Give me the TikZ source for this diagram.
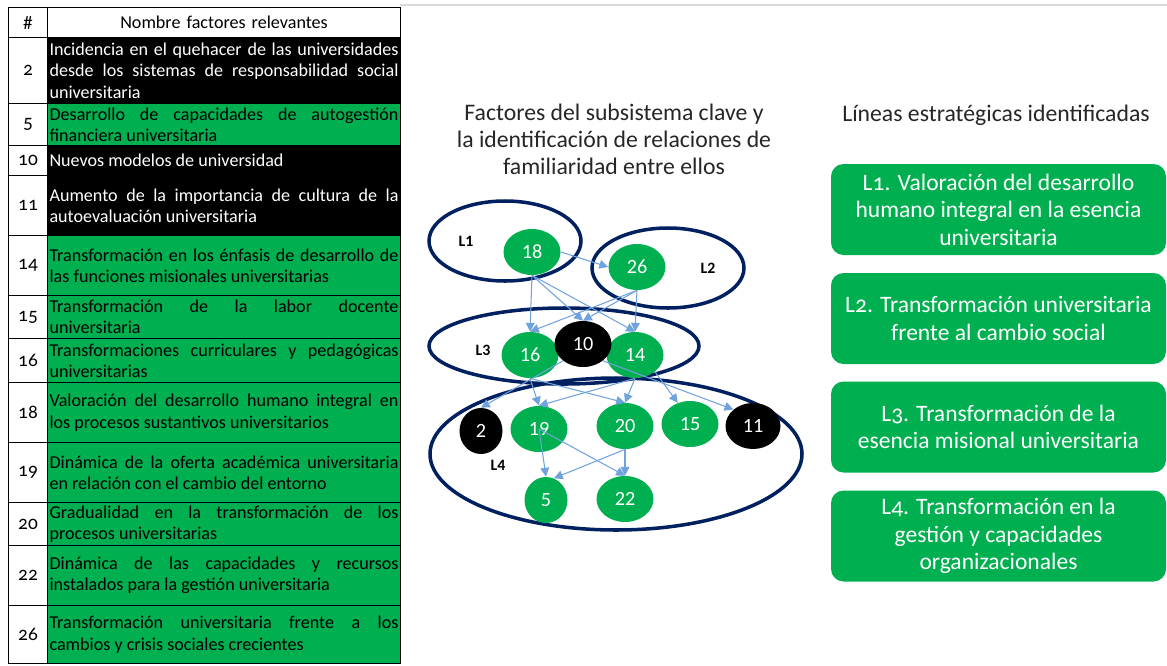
\documentclass[tikz,border=0pt]{standalone}
\usepackage{fontspec}
\setmainfont{Carlito}[Numbers=OldStyle]
\newfontfamily\liningfont{Carlito}
\usetikzlibrary{shapes.geometric, arrows.meta}
\definecolor{ogreen}{HTML}{00B050}
\definecolor{navy}{HTML}{002060}
\definecolor{edgeblue}{RGB}{112,163,222}

\tikzset{
  numcell/.style={draw=black, line width=0.6pt, anchor=north west, minimum width=0.78cm, inner sep=0pt, font=\fontsize{11}{12}\selectfont},
  cell/.style={draw=black, line width=0.6pt, anchor=north west, minimum width=7.06cm, text width=6.98cm, inner xsep=0.04cm, inner ysep=0pt, align=justify, font=\fontsize{10.3}{12.2}\selectfont, execute at begin node={\hyphenpenalty=10000\relax\tolerance=9999\relax}},
  headcell/.style={cell, align=center},
  greencell/.style={cell, fill=ogreen, text=black},
  blackcell/.style={cell, fill=black, text=white},
  factor/.style={ellipse, fill=ogreen, text=white, minimum width=1.14cm, minimum height=0.92cm, inner sep=0pt, font=\liningfont\fontsize{11.5}{12}\selectfont},
  factorb/.style={factor, fill=black},
  group/.style={ellipse, draw=navy, line width=2pt, inner sep=0pt},
  grouplabel/.style={font=\liningfont\bfseries\fontsize{9}{10}\selectfont},
  link/.style={draw=edgeblue, line width=0.6pt, -{Triangle[length=5pt,width=5pt]}},
  linebox/.style={rounded corners=0.25cm, fill=ogreen, text=white, minimum width=6.7cm, minimum height=1.82cm, align=center, font=\fontsize{13.4}{15.6}\selectfont},
  heading/.style={align=center, text=black!85, font=\fontsize{13.5}{15.3}\selectfont}
}

\begin{document}
\begin{tikzpicture}
\useasboundingbox (0,0) rectangle (23.34,-13.30);
\draw[black!15, line width=1.2pt] (8.00,-0.10) -- (23.34,-0.10);

\node[numcell, minimum height=0.60cm] (numh) at (0.16,-0.14) {\#};
\node[headcell, minimum height=0.60cm] (txth) at (0.94,-0.14) {Nombre factores relevantes};
\node[numcell, minimum height=1.32cm] (num2) at (0.16,-0.74) {2};
\node[blackcell, minimum height=1.32cm] (txt2) at (0.94,-0.74) {Incidencia en el quehacer de las universidades\linebreak desde los sistemas de responsabilidad social\linebreak universitaria};
\node[numcell, minimum height=0.84cm] (num5) at (0.16,-2.06) {5};
\node[greencell, minimum height=0.84cm] (txt5) at (0.94,-2.06) {Desarrollo de capacidades de autogestión\linebreak financiera universitaria};
\node[numcell, minimum height=0.60cm] (num10) at (0.16,-2.90) {10};
\node[blackcell, minimum height=0.60cm] (txt10) at (0.94,-2.90) {Nuevos modelos de universidad};
\node[numcell, minimum height=1.20cm] (num11) at (0.16,-3.50) {11};
\node[blackcell, minimum height=1.20cm] (txt11) at (0.94,-3.50) {Aumento de la importancia de cultura de la\linebreak autoevaluación universitaria};
\node[numcell, minimum height=1.20cm] (num14) at (0.16,-4.70) {14};
\node[greencell, minimum height=1.20cm] (txt14) at (0.94,-4.70) {Transformación en los énfasis de desarrollo de\linebreak las funciones misionales universitarias};
\node[numcell, minimum height=0.86cm] (num15) at (0.16,-5.90) {15};
\node[greencell, minimum height=0.86cm] (txt15) at (0.94,-5.90) {Transformación de la labor docente\linebreak universitaria};
\node[numcell, minimum height=0.88cm] (num16) at (0.16,-6.76) {16};
\node[greencell, minimum height=0.88cm] (txt16) at (0.94,-6.76) {Transformaciones curriculares y pedagógicas\linebreak universitarias};
\node[numcell, minimum height=1.20cm] (num18) at (0.16,-7.64) {18};
\node[greencell, minimum height=1.20cm] (txt18) at (0.94,-7.64) {Valoración del desarrollo humano integral en\linebreak los procesos sustantivos universitarios};
\node[numcell, minimum height=1.20cm] (num19) at (0.16,-8.84) {19};
\node[greencell, minimum height=1.20cm] (txt19) at (0.94,-8.84) {Dinámica de la oferta académica universitaria\linebreak en relación con el cambio del entorno};
\node[numcell, minimum height=0.86cm] (num20) at (0.16,-10.04) {20};
\node[greencell, minimum height=0.86cm] (txt20) at (0.94,-10.04) {Gradualidad en la transformación de los\linebreak procesos universitarias};
\node[numcell, minimum height=1.20cm] (num22) at (0.16,-10.90) {22};
\node[greencell, minimum height=1.20cm] (txt22) at (0.94,-10.90) {Dinámica de las capacidades y recursos\linebreak instalados para la gestión universitaria};
\node[numcell, minimum height=1.16cm] (num26) at (0.16,-12.10) {26};
\node[greencell, minimum height=1.16cm] (txt26) at (0.94,-12.10) {Transformación universitaria frente a los\linebreak cambios y crisis sociales crecientes};

\node[heading] (graphtitle) at (12.28,-2.78) {Factores del subsistema clave y\\ la identificación de relaciones de\\ familiaridad entre ellos};
\node[heading] (linestitle) at (19.92,-2.30) {Líneas estratégicas identificadas};

\node[group, minimum width=3.04cm, minimum height=1.60cm] (g1) at (10.10,-4.82) {};
\node[group, minimum width=3.04cm, minimum height=1.60cm] (g2) at (13.36,-5.36) {};
\node[group, minimum width=5.40cm, minimum height=1.52cm] (g3) at (11.28,-6.92) {};
\node[group, minimum width=7.44cm, minimum height=3.04cm] (g4) at (12.32,-9.08) {};
\node[grouplabel] (lab1) at (9.32,-4.82) {L1};
\node[grouplabel] (lab2) at (14.16,-5.36) {L2};
\node[grouplabel] (lab3) at (9.66,-7.00) {L3};
\node[grouplabel] (lab4) at (9.96,-9.30) {L4};

\node[factor] (f18) at (10.64,-5.04) {18};
\node[factor] (f26) at (12.74,-5.34) {26};
\node[factor] (f16) at (10.60,-7.10) {16};
\node[factor] (f14) at (12.70,-7.10) {14};
\node[factorb] (f10) at (11.66,-6.88) {10};
\node[factorb, minimum width=0.86cm] (f2) at (9.62,-8.62) {2};
\node[factor] (f19) at (10.78,-8.58) {19};
\node[factor] (f20) at (12.50,-8.52) {20};
\node[factor] (f15) at (13.80,-8.48) {15};
\node[factorb, minimum width=1.10cm] (f11) at (15.06,-8.52) {11};
\node[factor, minimum width=0.86cm] (f5) at (10.92,-10.00) {5};
\node[factor] (f22) at (12.50,-9.98) {22};

\draw[link] (f18.east) -- (f26.west);
\draw[link] (f18.south) -- (f16.north);
\draw[link] (f18.south) -- (f10.north);
\draw[link] (f18.south) -- (f14.north);
\draw[link] (f26.south) -- (f16.north);
\draw[link] (f26.south) -- (f10.north);
\draw[link] (f26.south) -- (f14.north);
\draw[link] (f10.220) -- (f2.north);
\draw[link] (f10.-40) -- (f11.140);
\draw[link] (f16.south) -- (f19.north);
\draw[link] (f16.south) -- (f20.north);
\draw[link] (f14.south) -- (f19.north);
\draw[link] (f14.south) -- (f20.north);
\draw[link] (f14.-40) -- (f15.120);
\draw[link] (f19.center) -- (f5.north);
\draw[link] (f19.center) -- (f22.north);
\draw[link] (f20.south) -- (f5.70);
\draw[link] (f20.south) -- (f22.north);

\node[linebox] (line1) at (19.97,-4.19) {L1. Valoración del desarrollo\\ humano integral en la esencia\\ universitaria};
\node[linebox] (line2) at (19.97,-6.37) {L2. Transformación universitaria\\ frente al cambio social};
\node[linebox] (line3) at (19.97,-8.54) {L3. Transformación de la\\ esencia misional universitaria};
\node[linebox] (line4) at (19.97,-10.72) {L4. Transformación en la\\ gestión y capacidades\\ organizacionales};
\end{tikzpicture}
\end{document}
